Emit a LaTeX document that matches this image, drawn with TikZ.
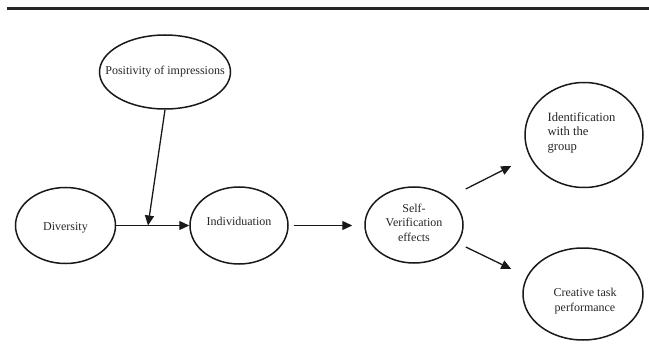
\documentclass[tikz,border=0pt]{standalone}
\usepackage{fontspec}
\setmainfont{Liberation Serif}
\usetikzlibrary{shapes.geometric,arrows.meta}
\newcommand\ovtxt[3][c]{\raisebox{#2}[0pt][0pt]{\makebox[0pt]{\begin{tabular}{@{}#1@{}}#3\end{tabular}}}}
\begin{document}
\begin{tikzpicture}[x=1pt,y=-1pt,
  oval/.style={draw=black!90,line width=1.5pt,ellipse,inner sep=0pt,
    font=\fontsize{12}{14.5}\selectfont,text=black!85},
  link/.style={draw=black!90,line width=1.3pt,-{Triangle[length=10pt,width=9pt]}},
  rule/.style={draw=black!85,line width=3pt}]
\useasboundingbox (0,0) rectangle (649,345);
\coordinate (r1) at (7,8.5);
\coordinate (r2) at (649,8.5);
\draw[rule] (r1) -- (r2);
\node[oval,minimum width=131pt,minimum height=74pt] (pos) at (165,72) {\ovtxt{-3pt}{Positivity of impressions}};
\node[oval,minimum width=100pt,minimum height=76pt] (div) at (65.5,225.5) {\ovtxt{-5pt}{Diversity}};
\node[oval,minimum width=98pt,minimum height=77pt] (ind) at (239,225.5) {\ovtxt{0pt}{Individuation}};
\node[oval,minimum width=98pt,minimum height=76pt] (sv) at (414,225) {\ovtxt{-2pt}{Self-\\Verification\\effects}};
\node[oval,minimum width=118pt,minimum height=105pt] (idn) at (584,135) {\hspace*{-5pt}\ovtxt[l]{-1pt}{\fontsize{12.6}{14.5}\selectfont Identification\\\fontsize{12.6}{14.5}\selectfont with the\\\fontsize{12.6}{14.5}\selectfont group}};
\node[oval,minimum width=120pt,minimum height=92pt] (cr) at (583,294) {\hspace*{4pt}\ovtxt{-10pt}{Creative task\\performance}};
\coordinate (m) at (148,225.5);
\draw[link] (div.east) -- (ind.west);
\draw[link] (pos.south) -- (m);
\draw[link] ([shift={(5,0)}]ind.east) -- ([shift={(-12,0)}]ind.east -| sv.west);
\draw[link] ([shift={(2,-36)}]sv.east) -- ([shift={(-13,31)}]idn.west);
\draw[link] ([shift={(2,22)}]sv.east) -- ([shift={(-11,-25)}]cr.west);
\end{tikzpicture}
\end{document}
